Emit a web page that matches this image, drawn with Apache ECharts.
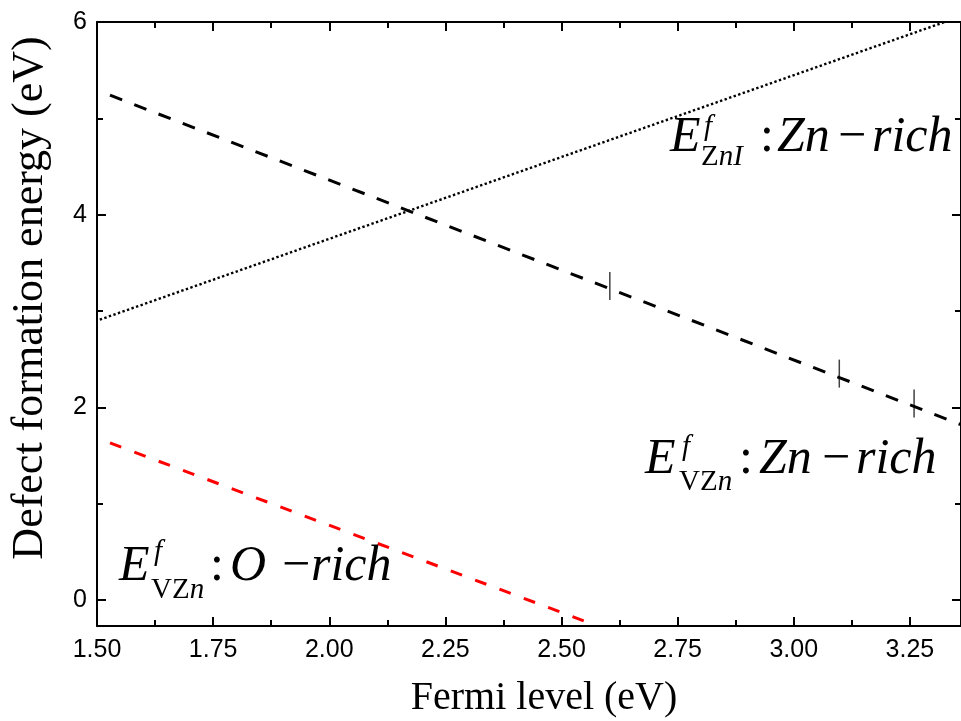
<!DOCTYPE html>
<html>
<head>
<meta charset="utf-8">
<script src="https://cdn.jsdelivr.net/npm/echarts@6/dist/echarts.min.js"></script>
<style>
html,body{margin:0;padding:0;background:#fff;}
#main{width:961px;height:721px;}
</style>
</head>
<body>
<div id="main"></div>
<script>
// ---- data ----
const xMajorTicks = [1.5, 1.75, 2.0, 2.25, 2.5, 2.75, 3.0, 3.25];
const xMinorTicks = [1.625, 1.875, 2.125, 2.375, 2.625, 2.875, 3.125];
const yMajorTicks = [0, 2, 4, 6];
const yMinorTicks = [1, 3, 5];

// E^f_ZnI : Zn-rich (dotted)
const znIZnRichX = [1.506, 3.325];
const znIZnRichY = [2.91, 6.0];
// E^f_VZn : Zn-rich (black dashed)
const vZnZnRichX = [1.528, 3.36];
const vZnZnRichY = [5.24, 1.82];
// E^f_VZn : O-rich (red dashed)
const vZnORichX = [1.528, 2.55];
const vZnORichY = [1.63, -0.22];
// small vertical marks on the Zn-rich VZn line
const markX = [2.604, 3.098, 3.259];
const markY = [3.26, 2.35, 2.04];

const X_MIN = 1.5, X_MAX = 3.36, Y_MIN = -0.27, Y_MAX = 6;

function pairs(xs, ys) { return xs.map((x, i) => [x, ys[i]]); }

const tickFont = { fontFamily: 'Liberation Sans', fontSize: 25, color: '#000' };

function xAxisDef(pos, vals, len, showLabel, showLine) {
  return {
    type: 'value', position: pos, min: X_MIN, max: X_MAX,
    splitLine: { show: false },
    axisLine: { show: showLine, onZero: false, lineStyle: { color: '#000', width: 2 } },
    axisTick: { show: true, inside: true, length: len, customValues: vals, lineStyle: { color: '#000', width: 2 } },
    axisLabel: Object.assign({ show: showLabel, customValues: vals, margin: 12,
      formatter: v => Number(v).toFixed(2) }, tickFont)
  };
}
function yAxisDef(pos, vals, len, showLabel, showLine) {
  return {
    type: 'value', position: pos, min: Y_MIN, max: Y_MAX,
    splitLine: { show: false },
    axisLine: { show: showLine, onZero: false, lineStyle: { color: '#000', width: 2 } },
    axisTick: { show: true, inside: true, length: len, customValues: vals, lineStyle: { color: '#000', width: 2 } },
    axisLabel: Object.assign({ show: showLabel, customValues: vals, margin: 10,
      formatter: v => String(Math.round(v)) }, tickFont)
  };
}

const serif = 'Liberation Serif';
function piece(text, x, baseline, fs, italic) {
  return {
    type: 'text', x: x, y: baseline - 0.34 * fs, z: 100,
    style: { text: text, fontFamily: serif, fontSize: fs, fontStyle: italic ? 'italic' : 'normal',
      fill: '#000', align: 'left', verticalAlign: 'middle' }
  };
}
function richPiece(parts, x, baseline, fs) {
  const rich = { u: { fontFamily: serif, fontSize: fs, fontStyle: 'normal', fill: '#000' },
                 i: { fontFamily: serif, fontSize: fs, fontStyle: 'italic', fill: '#000' } };
  return {
    type: 'text', x: x, y: baseline - 0.34 * fs, z: 100,
    style: { text: parts.map(p => '{' + (p[1] ? 'i' : 'u') + '|' + p[0] + '}').join(''),
      rich: rich, fontFamily: serif, fontSize: fs, fill: '#000', align: 'left', verticalAlign: 'middle' }
  };
}

const BIG = 50, SMALL = 29;
const graphics = [
  // label 1: E^f_ZnI : Zn - rich
  piece('E', 670, 155, BIG, true),
  piece('f', 704, 137, SMALL, true),
  richPiece([['Z', false], ['nI', true]], 701, 167, SMALL),
  piece(':', 760, 155, BIG, false),
  piece('Zn', 777, 155, BIG, true),
  piece('\u2212', 838, 155, BIG, false),
  piece('rich', 872, 155, BIG, true),
  // label 2: E^f_VZn : Zn - rich
  piece('E', 645, 477, BIG, true),
  piece('f', 682, 457, SMALL, true),
  richPiece([['VZ', false], ['n', true]], 679, 492, SMALL),
  piece(':', 739, 477, BIG, false),
  piece('Zn', 759, 477, BIG, true),
  piece('\u2212', 822, 477, BIG, false),
  piece('rich', 856, 477, BIG, true),
  // label 3: E^f_VZn : O - rich
  piece('E', 119, 584, BIG, true),
  piece('f', 154, 562, SMALL, true),
  richPiece([['VZ', false], ['n', true]], 151, 600, SMALL),
  piece(':', 210, 584, BIG, false),
  piece('O', 230, 584, BIG, true),
  piece('\u2212', 282, 584, BIG, false),
  piece('rich', 311, 584, BIG, true),
  // axis titles
  { type: 'text', x: 544, y: 698, z: 100,
    style: { text: 'Fermi level (eV)', fontFamily: serif, fontSize: 40, fill: '#000', align: 'center', verticalAlign: 'middle' } },
  { type: 'text', x: 30, y: 298, rotation: Math.PI / 2, z: 100,
    style: { text: 'Defect formation energy (eV)', fontFamily: serif, fontSize: 44, fill: '#000', align: 'center', verticalAlign: 'middle' } }
];

const chart = echarts.init(document.getElementById('main'));
chart.setOption({
  animation: false,
  backgroundColor: '#fff',
  grid: { left: 97, top: 22, width: 866, height: 604, containLabel: false },
  xAxis: [
    xAxisDef('bottom', xMajorTicks, 9, true, true),
    xAxisDef('bottom', xMinorTicks, 6, false, false),
    xAxisDef('top', xMajorTicks, 9, false, true),
    xAxisDef('top', xMinorTicks, 6, false, false)
  ],
  yAxis: [
    yAxisDef('left', yMajorTicks, 9, true, true),
    yAxisDef('left', yMinorTicks, 6, false, false),
    yAxisDef('right', yMajorTicks, 9, false, true),
    yAxisDef('right', yMinorTicks, 6, false, false)
  ],
  series: [
    { type: 'line', name: 'ZnI Zn-rich', data: pairs(znIZnRichX, znIZnRichY), showSymbol: false,
      lineStyle: { color: '#000', width: 2.4, type: [2.4, 2.4] }, clip: true },
    { type: 'line', name: 'VZn Zn-rich', data: pairs(vZnZnRichX, vZnZnRichY), showSymbol: false,
      lineStyle: { color: '#000', width: 3, type: [13, 13] }, clip: true },
    { type: 'line', name: 'VZn O-rich', data: pairs(vZnORichX, vZnORichY), showSymbol: false,
      lineStyle: { color: '#ff0000', width: 3, type: [12, 14] }, clip: true },
    { type: 'scatter', name: 'marks', data: pairs(markX, markY), symbol: 'rect', symbolSize: [1.5, 28],
      itemStyle: { color: '#111' } }
  ],
  graphic: graphics
});
</script>
</body>
</html>
